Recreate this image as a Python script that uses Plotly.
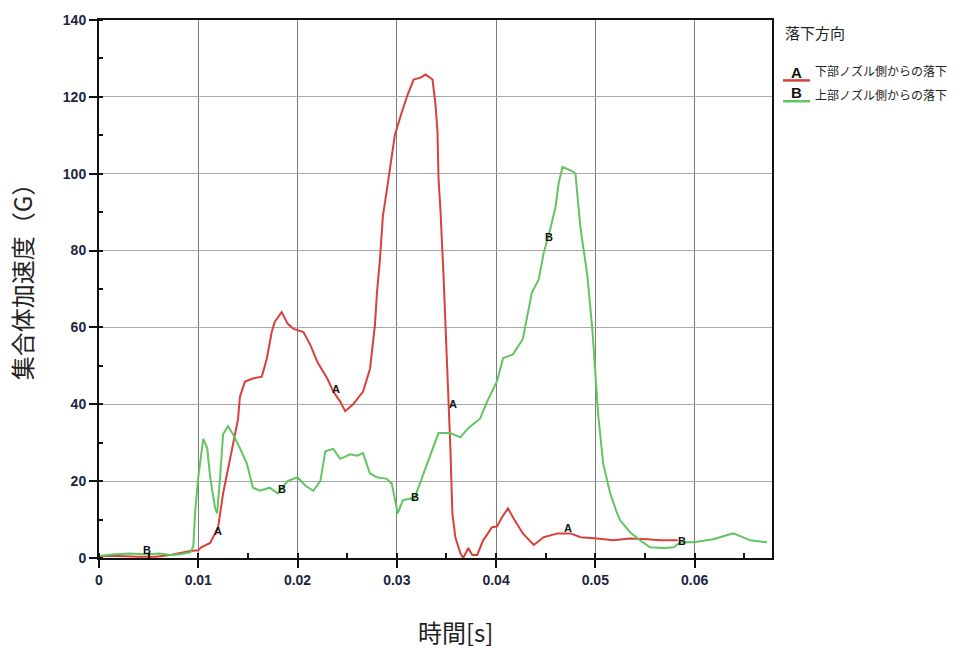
import plotly.graph_objects as go

# ---- data -------------------------------------------------------------
# A: drop from the lower-nozzle side (red)
time_a = [0, 0.002, 0.004, 0.0057, 0.0072, 0.0082, 0.0092, 0.0100, 0.0103, 0.0112,
          0.0117, 0.0120, 0.0125, 0.0135, 0.0140, 0.0142, 0.0147, 0.0155, 0.0164,
          0.0169, 0.0174, 0.0177, 0.0184, 0.0190, 0.0196, 0.0206, 0.0213, 0.0220,
          0.0230, 0.0236, 0.0243, 0.0248, 0.0256, 0.0266, 0.0273, 0.0278, 0.0280,
          0.0283, 0.0286, 0.0291, 0.0295, 0.0298, 0.0305, 0.0311, 0.0317, 0.0324,
          0.0329, 0.0336, 0.0339, 0.0341, 0.0342, 0.0344, 0.0347, 0.0349, 0.0351,
          0.0352, 0.0354, 0.0356, 0.0359, 0.0364, 0.0367, 0.0372, 0.0376, 0.0381,
          0.0387, 0.0396, 0.0401, 0.0406, 0.0412, 0.0417, 0.0427, 0.0438, 0.0448,
          0.0462, 0.0475, 0.0485, 0.0502, 0.0518, 0.0535, 0.0552, 0.0566, 0.0583]
accel_a = [0.5, 0.5, 0.3, 0.3, 0.8, 1.3, 1.8, 2.0, 2.8, 3.9,
           6.4, 8.0, 16.8, 29.6, 36.0, 42.0, 45.9, 46.7, 47.2,
           51.8, 58.8, 61.4, 64.0, 61.0, 59.6, 58.8, 55.4, 51.0,
           46.7, 43.3, 40.7, 38.2, 40.0, 43.3, 49.2, 60.6, 69.0,
           77.6, 89.0, 97.5, 105.0, 110.0, 116.0, 120.6, 124.5, 125.0,
           125.8, 124.5, 118.0, 111.0, 99.0, 90.5, 74.0, 62.0, 48.0,
           40.7, 28.6, 11.6, 5.4, 1.3, 0.0, 2.6, 0.8, 0.8,
           4.6, 8.0, 8.2, 10.6, 12.9, 10.6, 6.4, 3.4, 5.4,
           6.4, 6.4, 5.4, 5.1, 4.6, 5.1, 4.9, 4.6, 4.6]

# B: drop from the upper-nozzle side (green)
time_b = [0, 0.0016, 0.0031, 0.0048, 0.0061, 0.0072, 0.0082, 0.0092, 0.0095, 0.0097,
          0.0100, 0.0105, 0.0109, 0.0112, 0.0117, 0.0119, 0.0122, 0.0125, 0.0130,
          0.0135, 0.0142, 0.0149, 0.0155, 0.0162, 0.0172, 0.0180, 0.0190, 0.0200,
          0.0208, 0.0216, 0.0223, 0.0228, 0.0236, 0.0243, 0.0253, 0.0260, 0.0266,
          0.0273, 0.0280, 0.0290, 0.0295, 0.0301, 0.0306, 0.0314, 0.0317, 0.0324,
          0.0334, 0.0342, 0.0354, 0.0364, 0.0372, 0.0384, 0.0391, 0.0397, 0.0401,
          0.0407, 0.0417, 0.0427, 0.0431, 0.0436, 0.0443, 0.0448, 0.0455, 0.0460,
          0.0463, 0.0467, 0.0478, 0.0480, 0.0485, 0.0492, 0.0497, 0.0500, 0.0503,
          0.0508, 0.0515, 0.0522, 0.0525, 0.0535, 0.0545, 0.0555, 0.0569, 0.0579,
          0.0586, 0.0599, 0.0619, 0.0633, 0.0639, 0.0646, 0.0656, 0.0673]
accel_b = [0.5, 1.0, 1.2, 1.0, 1.2, 0.8, 1.0, 1.5, 3.0, 12.4,
           21.0, 31.0, 28.6, 21.0, 13.0, 11.6, 21.0, 32.2, 34.3,
           32.2, 28.6, 24.5, 18.3, 17.5, 18.3, 16.8, 20.0, 21.0,
           18.8, 17.5, 20.0, 27.8, 28.4, 25.8, 27.0, 26.6, 27.3,
           22.0, 21.0, 20.6, 19.3, 11.6, 15.0, 15.5, 15.0, 20.0,
           27.0, 32.5, 32.5, 31.4, 33.8, 36.3, 40.7, 44.0, 46.0,
           52.0, 53.0, 57.0, 62.0, 69.0, 72.5, 79.4, 86.0, 91.5,
           97.5, 101.8, 100.5, 100.0, 86.0, 73.5, 59.5, 47.7, 37.0,
           24.5, 16.8, 11.6, 9.8, 6.7, 4.6, 2.8, 2.6, 2.8,
           4.1, 4.1, 4.9, 6.0, 6.4, 5.7, 4.6, 4.1]

series_letters = ["A", "B"]
series_names = ["下部ノズル側からの落下", "上部ノズル側からの落下"]
legend_title = "落下方向"

# in-plot curve identifiers
label_a_t = [0.0120, 0.0239, 0.0357, 0.0472]
label_a_v = [7.0, 44.0, 40.0, 7.7]
label_b_t = [0.0048, 0.0184, 0.0318, 0.0453, 0.0587]
label_b_v = [2.0, 18.0, 16.0, 83.5, 4.4]

x_ticks = [0, 0.01, 0.02, 0.03, 0.04, 0.05, 0.06]
x_tick_text = ["0", "0.01", "0.02", "0.03", "0.04", "0.05", "0.06"]
y_ticks = [0, 20, 40, 60, 80, 100, 120, 140]

x_title = "時間[s]"
y_title = "集合体加速度（G）"

# ---- style ------------------------------------------------------------
RED = "#d8403a"
GREEN = "#62c462"
TICK_COLOR = "#1c2540"
JP_FONT = "Noto Sans CJK JP"

fig = go.Figure()
fig.add_trace(go.Scatter(x=time_a, y=accel_a, mode="lines",
                         line=dict(color=RED, width=2), name=series_names[0]))
fig.add_trace(go.Scatter(x=time_b, y=accel_b, mode="lines",
                         line=dict(color=GREEN, width=2), name=series_names[1]))

annotations = []
for t, v in zip(label_a_t, label_a_v):
    annotations.append(dict(x=t, y=v, xref="x", yref="y", text="<b>A</b>",
                            showarrow=False, font=dict(size=11, color="#111",
                                                       family="Liberation Sans")))
for t, v in zip(label_b_t, label_b_v):
    annotations.append(dict(x=t, y=v, xref="x", yref="y", text="<b>B</b>",
                            showarrow=False, font=dict(size=11, color="#111",
                                                       family="Liberation Sans")))

# axis titles
annotations.append(dict(x=-0.115, y=0.525, xref="paper", yref="paper", text=y_title,
                        textangle=-90, showarrow=False, xanchor="center", yanchor="middle",
                        font=dict(size=24, color="#222", family=JP_FONT)))
annotations.append(dict(x=0.529, y=-0.136, xref="paper", yref="paper", text=x_title,
                        showarrow=False, xanchor="center", yanchor="middle",
                        font=dict(size=24, color="#222", family=JP_FONT)))

# hand-built legend: letter over a coloured line, then the description
annotations.append(dict(x=1.0163, y=0.976, xref="paper", yref="paper", text=legend_title,
                        showarrow=False, xanchor="left", yanchor="middle",
                        font=dict(size=15, color="#222", family=JP_FONT)))
shapes = []
legend_rows = [(0.906, 0.8877, RED), (0.862, 0.849, GREEN)]
for (ty, ly, col), letter, name in zip(legend_rows, series_letters, series_names):
    shapes.append(dict(type="line", xref="paper", yref="paper", x0=1.0163, x1=1.0565,
                       y0=ly, y1=ly, line=dict(color=col, width=2.5)))
    annotations.append(dict(x=1.0364, y=ly - 0.004, xref="paper", yref="paper",
                            text="<b>" + letter + "</b>", showarrow=False,
                            xanchor="center", yanchor="bottom",
                            font=dict(size=15, color="#111", family="Liberation Sans")))
    annotations.append(dict(x=1.061, y=ty, xref="paper", yref="paper", text=name,
                            showarrow=False, xanchor="left", yanchor="middle",
                            font=dict(size=12, color="#222", family=JP_FONT)))

fig.update_layout(
    width=960, height=650,
    margin=dict(l=99, r=188, t=15, b=92),
    paper_bgcolor="white", plot_bgcolor="white",
    showlegend=False,
    annotations=annotations,
    shapes=shapes,
)
fig.update_xaxes(
    range=[0, 0.0678], tickvals=x_ticks, ticktext=x_tick_text,
    showline=True, linecolor="#111", linewidth=2, mirror=True,
    ticks="outside", ticklen=8, tickwidth=2, tickcolor="#111",
    showgrid=True, gridcolor="#7a7a7a", gridwidth=1, zeroline=False,
    tickfont=dict(size=14, color=TICK_COLOR, family="Liberation Sans", weight="bold"),
    minor=dict(dtick=0.005, ticks="inside", ticklen=5, tickcolor="#111", showgrid=False),
)
fig.update_yaxes(
    range=[0, 140], tickvals=y_ticks,
    showline=True, linecolor="#111", linewidth=2, mirror=True,
    ticks="outside", ticklen=8, tickwidth=2, tickcolor="#111",
    showgrid=True, gridcolor="#a8a8a8", gridwidth=1, zeroline=False,
    tickfont=dict(size=14, color=TICK_COLOR, family="Liberation Sans", weight="bold"),
    minor=dict(dtick=10, ticks="inside", ticklen=4, tickcolor="#111", showgrid=False),
)

fig.write_html("out.html")
